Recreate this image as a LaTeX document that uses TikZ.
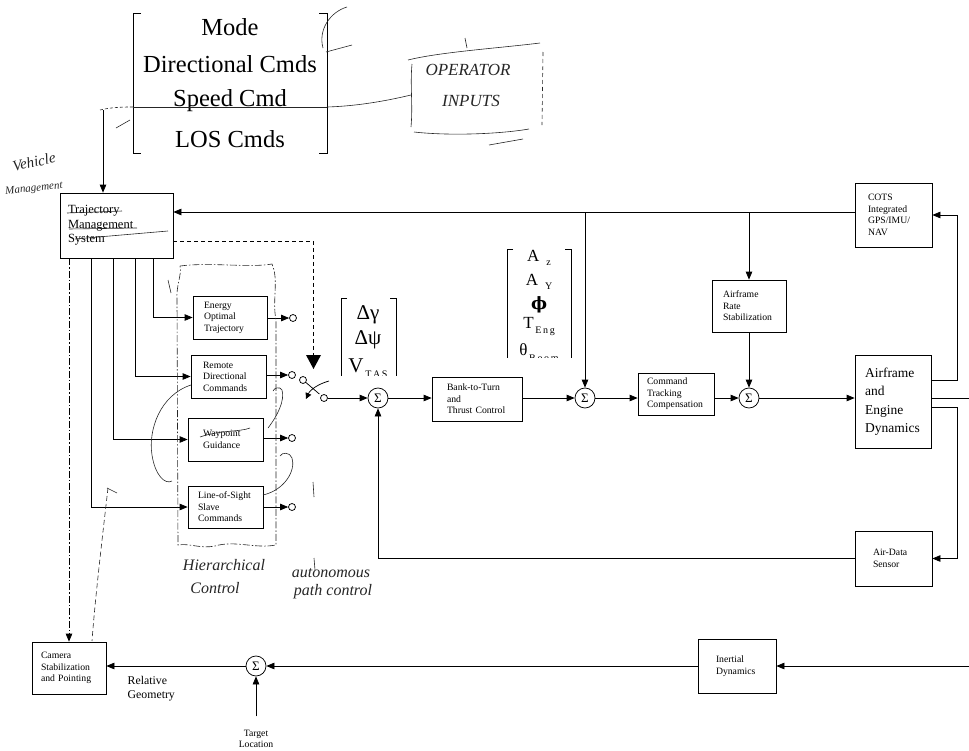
\documentclass[tikz,border=0pt]{standalone}
\usepackage{fontspec}
\setmainfont{Liberation Serif}
\newfontfamily\dvs{DejaVu Serif}
\usetikzlibrary{arrows.meta,calc}
\newcommand\fsm{\fontsize{9.7}{11.5}\selectfont}
\newcommand\ftraj{\fontsize{12.5}{14.5}\selectfont}
\newcommand\fae{\fontsize{13.5}{18.5}\selectfont}
\newcommand\frel{\fontsize{11.8}{14}\selectfont}
\newcommand\fbig{\fontsize{24.5}{37}\selectfont}
\newcommand\fmat{\fontsize{21}{25}\selectfont}
\newcommand\fmatb{\fontsize{17}{20}\selectfont}
\newcommand\fsub{\fontsize{10}{10}\selectfont}
\newcommand\fsig{\fontsize{13}{13}\selectfont}
\newcommand\fhand{\fontsize{16}{16}\selectfont\itshape}
\begin{document}
\begin{tikzpicture}[x=1pt,y=-1pt,line width=0.75pt,
  arr/.style={-{Triangle[length=8pt,width=6.5pt]}},
  blk/.style={draw,line width=0.75pt,align=left,inner ysep=2pt,font=\fsm},
  sum/.style={draw,circle,minimum size=20pt,inner sep=0pt,font=\fsig},
  port/.style={draw,circle,minimum size=7pt,inner sep=0pt,fill=white},
  hand/.style={line width=0.6pt,draw=black!85},
  htext/.style={font=\fhand,text=black!85},
  dashdot/.style={dash pattern=on 7pt off 2pt on 1.5pt off 2pt}]
\useasboundingbox (0,0) rectangle (969,750);

% ---------------- top command vector ----------------
\draw[line width=0.9pt] (141,13) -- (133,13) -- (133,153) -- (141,153);
\draw[line width=0.9pt] (319,13) -- (327,13) -- (327,153) -- (319,153);
\node[font=\fbig] (mode) at (230,27) {Mode};
\node[font=\fbig] (dirc) at (230,64) {Directional Cmds};
\node[font=\fbig] (spdc) at (230,101) {Speed Cmd};
\node[font=\fbig] (losc) at (230,139) {LOS Cmds};

% ---------------- blocks ----------------
\node[blk,font=\ftraj,minimum width=113pt,minimum height=65pt,text width=97pt,inner xsep=8pt] (traj) at (116.5,225.5) {Trajectory\\Management\\System};
\node[blk,minimum width=74pt,minimum height=43pt,text width=52pt,inner xsep=11pt] (eot) at (230,317.5) {Energy\\Optimal\\Trajectory};
\node[blk,minimum width=75pt,minimum height=43pt,text width=51pt,inner xsep=12pt] (rd) at (228.5,376.5) {Remote\\Directional\\Commands};
\node[blk,minimum width=75pt,minimum height=43pt,text width=45pt,inner xsep=15pt] (wp) at (225.5,439.5) {Waypoint\\Guidance};
\node[blk,minimum width=75pt,minimum height=42pt,text width=55pt,inner xsep=10pt] (los) at (225.5,507) {Line-of-Sight\\Slave\\Commands};
\node[blk,minimum width=90pt,minimum height=44pt,text width=60pt,inner xsep=15pt] (btt) at (477,399) {Bank-to-Turn\\and\\Thrust Control};
\node[blk,minimum width=76pt,minimum height=42pt,text width=58pt,inner xsep=9pt] (ctc) at (676,394) {Command\\Tracking\\Compensation};
\node[blk,minimum width=74pt,minimum height=52pt,text width=52pt,inner xsep=11pt] (ars) at (749,306) {Airframe\\Rate\\Stabilization};
\node[blk,minimum width=77pt,minimum height=64pt,text width=51pt,inner xsep=13pt] (cots) at (893.5,215) {COTS\\Integrated\\GPS/IMU/\\NAV};
\node[blk,font=\fae,minimum width=76pt,minimum height=93pt,text width=56pt,inner xsep=10pt] (ae) at (893,401.5) {Airframe\\and\\Engine\\Dynamics};
\node[blk,minimum width=77pt,minimum height=55pt,text width=41pt,inner xsep=18pt] (ads) at (893.5,558.5) {Air-Data\\Sensor};
\node[blk,minimum width=78pt,minimum height=54pt,text width=42pt,inner xsep=18pt] (inert) at (737,666) {Inertial\\Dynamics};
\node[blk,minimum width=74pt,minimum height=52pt,text width=56pt,inner xsep=9pt] (cam) at (69,668) {Camera\\Stabilization\\and Pointing};

% ---------------- summing junctions ----------------
\node[sum] (s1) at (378,398) {Σ};
\node[sum] (s2) at (585,398) {Σ};
\node[sum] (s3) at (749,398) {Σ};
\node[sum] (s4) at (256,666) {Σ};

% ---------------- ports and switch ----------------
\node[port] (o1) at (293,318) {};
\node[port] (o2) at (292,375) {};
\node[port] (o3) at (292,438) {};
\node[port] (o4) at (292,507) {};
\node[port] (sw1) at (303,380) {};
\node[port] (sw2) at (324,398) {};
\draw (sw1) -- ($(sw1)!0.78!(sw2)$);
\draw[-{Triangle[length=6pt,width=6pt]}] (329,381) .. controls (318,384) and (310,390) .. (306,399);

% ---------------- signal vectors (cut off at the bottom) ----------------
\begin{scope}
\clip (330,290) rectangle (405,375);
\draw (347,298) -- (341,298) -- (341,380);
\draw (390,298) -- (396,298) -- (396,380);
\node[font=\fmat] (dg) at (368,315) {Δγ};
\node[font=\fmat] (dp) at (368,340) {Δψ};
\node[font=\fmat] (vt) at (368,368) {V\raisebox{-5pt}{\fsub\,T\,A\,S}};
\end{scope}
\begin{scope}
\clip (495,240) rectangle (585,357);
\draw (513,249) -- (507,249) -- (507,362);
\draw (565,249) -- (571,249) -- (571,362);
\node[font=\fmatb] (az) at (539,258) {A\hspace{7pt}\raisebox{-4pt}{\fsub z}};
\node[font=\fmatb] (ay) at (539,282) {A\hspace{7pt}\raisebox{-4pt}{\fsub Y}};
\node[font=\fmatb] (ph) at (539,305) {{\dvs\bfseries ϕ}};
\node[font=\fmatb] (te) at (539,327) {T\raisebox{-5pt}{\fsub\,E\,n\,g}};
\node[font=\fmatb] (tb) at (539,353) {θ\raisebox{-6pt}{\fsub\,B\,o\,o\,m}};
\end{scope}

% ---------------- labels ----------------
\node[font=\frel,align=left,anchor=west] (relg) at (124,689) {Relative\\Geometry};
\node[font=\fsm,align=center] (tgt) at (256,739) {Target\\Location};

% ---------------- coordinates ----------------
\coordinate (tin) at (103,110);
\coordinate (ytop) at (0,212);
\coordinate (ydash) at (0,241);
\coordinate (ya) at (0,380);
\coordinate (yb) at (0,398);
\coordinate (yc) at (0,407);
\coordinate (xr) at (957,0);
\coordinate (rout) at (969,398);
\coordinate (rin) at (969,666);
\coordinate (xa) at (91,0);
\coordinate (xb) at (113,0);
\coordinate (xc) at (135,0);
\coordinate (xd) at (153,0);
\coordinate (trig) at (313.5,355);

% ---------------- connectors ----------------
\draw[arr] (tin) -- (tin |- traj.north);
\draw[arr] (cots.west |- ytop) -- (traj.east |- ytop);
\draw[arr] (s2 |- ytop) -- (s2);
\draw[arr] (ars |- ytop) -- (ars.north);
\draw[arr] (ars.south) -- (s3);
\draw[arr] (sw2) -- (s1);
\draw[arr] (s1) -- (s1 -| btt.west);
\draw[arr] (btt.east |- s2) -- (s2);
\draw[arr] (s2) -- (s2 -| ctc.west);
\draw[arr] (ctc.east |- s3) -- (s3);
\draw[arr] (s3) -- (s3 -| ae.west);
\draw[arr] (ae.east |- ya) -| (xr |- cots.east) -- (cots.east);
\draw (ae.east |- yb) -- (rout);
\draw[arr] (ae.east |- yc) -| (xr |- ads.east) -- (ads.east);
\draw[arr] (ads.west) -| (s1.south);
\draw[arr] (rin) -- (inert.east);
\draw[arr] (inert.west) -- (s4);
\draw[arr] (s4) -- (s4 -| cam.east);
\draw[arr] ([yshift=10pt]tgt.north) -- (s4);

\draw[arr,dashdot] (traj.south -| cam.north) -- (cam.north);
\draw[arr] (traj.south -| xa) |- (los.west);
\draw[arr] (traj.south -| xb) |- (wp.west);
\draw[arr] (traj.south -| xc) |- (rd.west);
\draw[arr] (traj.south -| xd) |- (eot.west);
\draw[arr] (eot.east |- o1) -- (o1);
\draw[arr] (rd.east |- o2) -- (o2);
\draw[arr] (wp.east |- o3) -- (o3);
\draw[arr] (los.east |- o4) -- (o4);

\fill (306,355) -- (321,355) -- (313.5,369) -- cycle;
\draw[dash pattern=on 4pt off 3pt] (traj.east |- ydash) -| (trig);

% ---------------- handwritten annotations ----------------
\draw[hand] (133,107) -- (327,107);
\draw[hand] (327,107) .. controls (360,106) and (390,100) .. (411,95);
\draw[hand,dash pattern=on 3pt off 2pt] (100,110) .. controls (112,107) and (125,107) .. (133,107);
\draw[hand] (116,128) -- (130,120);
\draw[hand] (347,7) .. controls (330,12) and (318,30) .. (323,48);
\draw[hand] (326,52) -- (352,45);
\node[htext,font=\fontsize{17}{17}\selectfont\itshape] (op1) at (468,70) {OPERATOR};
\node[htext,font=\fontsize{17}{17}\selectfont\itshape] (op2) at (471,101) {INPUTS};
\draw[hand] (408,60) .. controls (440,52) and (500,48) .. (540,43);
\draw[hand] (465,38) -- (467,48);
\draw[hand] (412,64) .. controls (410,85) and (413,105) .. (411,127);
\draw[hand,dash pattern=on 4pt off 3pt] (543,52) -- (542,125);
\draw[hand] (414,132) .. controls (450,136) and (500,134) .. (529,129);
\draw[hand] (489,145) -- (523,139);

\node[htext,rotate=12,font=\fontsize{15}{15}\selectfont\itshape] (veh) at (34,162) {Vehicle};
\node[htext,rotate=6,font=\fontsize{11}{11}\selectfont\itshape] (mgmt) at (34,189) {Management};
\draw[hand] (67,213) -- (122,211);
\draw[hand] (69,229) -- (137,228);
\draw[hand] (75,239) -- (168,231);

\draw[hand,dashdot] (180,266) .. controls (210,262) and (250,268) .. (272,264)
  .. controls (279,280) and (272,300) .. (276,320) -- (276,545)
  .. controls (255,549) and (235,540) .. (215,546)
  .. controls (200,549) and (190,543) .. (178,545) -- (177,300) .. controls (176,285) and (182,275) .. (180,266);
\draw[hand] (168,280) -- (171,293);
\draw[hand] (191,385) .. controls (160,395) and (148,430) .. (152,455) .. controls (155,475) and (165,485) .. (172,481);
\draw[hand] (263,495) .. controls (285,490) and (296,470) .. (292,458) .. controls (290,452) and (282,452) .. (280,456);
\draw[hand] (268,428) .. controls (278,415) and (285,400) .. (282,390) .. controls (280,386) and (274,388) .. (273,391);
\draw[hand] (200,437) .. controls (220,430) and (240,432) .. (250,428);
\draw[hand,dash pattern=on 5pt off 3pt] (108,488) .. controls (102,540) and (95,600) .. (92,641);
\draw[hand] (107,488) -- (117,493);
\draw[hand] (313,482) -- (314,497);
\draw[hand] (314,558) -- (315,570);

\node[htext] (hier) at (224,565) {Hierarchical};
\node[htext] (ctrl) at (215,588) {Control};
\node[htext] (auton) at (331,573) {autonomous};
\node[htext] (pathc) at (333,592) {path control};
\end{tikzpicture}
\end{document}
